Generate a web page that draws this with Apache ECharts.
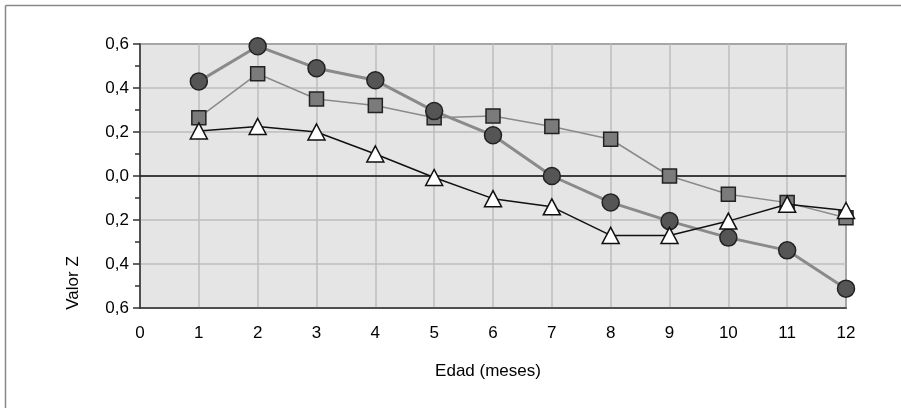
<!DOCTYPE html>
<html>
<head>
<meta charset="utf-8">
<script src="https://cdn.jsdelivr.net/npm/echarts@6/dist/echarts.min.js"></script>
<style>
html,body{margin:0;padding:0;background:#fff;}
#chart{width:901px;height:408px;}
</style>
</head>
<body>
<div id="chart"></div>
<script>
var months = [1,2,3,4,5,6,7,8,9,10,11,12];
var xTickLabels = ['0','1','2','3','4','5','6','7','8','9','10','11','12'];
var yTickValues = [-0.6,-0.4,-0.2,0,0.2,0.4,0.6];
var yTickLabels = ['0,6','0,4','0,2','0,0','0,2','0,4','0,6'];
var seriesCircle = [0.43,0.59,0.49,0.435,0.295,0.185,0.0,-0.12,-0.205,-0.28,-0.338,-0.512];
var seriesSquare = [0.265,0.465,0.35,0.32,0.265,0.273,0.225,0.167,0.0,-0.083,-0.121,-0.19];
var seriesTriangle = [0.205,0.225,0.2,0.1,-0.007,-0.103,-0.14,-0.27,-0.27,-0.205,-0.128,-0.157];
var xAxisTitle = 'Edad (meses)';
var yAxisTitle = 'Valor Z';

function pairs(vals){ return months.map(function(m,i){ return [m, vals[i]]; }); }

var FONT = 'Liberation Sans, Arial, sans-serif';
var chart = echarts.init(document.getElementById('chart'), null, {renderer:'canvas'});
chart.setOption({
  animation:false,
  backgroundColor:'#fff',
  grid:{left:140, right:55, top:44, bottom:100, show:true, backgroundColor:'#e5e5e5', borderColor:'#333', borderWidth:1.5},
  xAxis:{
    type:'value', min:0, max:12, interval:1,
    axisLine:{show:true, onZero:false, lineStyle:{color:'#333', width:1.5}},
    axisTick:{show:false},
    axisLabel:{color:'#000', fontFamily:FONT, fontSize:17, margin:17,
      formatter:function(v){ return xTickLabels[Math.round(v)]; }},
    splitLine:{show:true, lineStyle:{color:'#bdbdbd', width:1.5}}
  },
  yAxis:{
    type:'value', min:-0.6, max:0.6, interval:0.2,
    axisLine:{show:true, onZero:false, lineStyle:{color:'#333', width:1.5}},
    axisTick:{show:true, length:7, lineStyle:{color:'#333', width:1.5}},
    minorTick:{show:true, splitNumber:2, length:5, lineStyle:{color:'#333', width:1.5}},
    axisLabel:{color:'#000', fontFamily:FONT, fontSize:17, margin:11,
      formatter:function(v){
        for(var i=0;i<yTickValues.length;i++){ if(Math.abs(yTickValues[i]-v)<1e-6) return yTickLabels[i]; }
        return '';
      }},
    splitLine:{show:true, lineStyle:{color:'#bdbdbd', width:1.5}}
  },
  graphic:[
    {type:'line', shape:{x1:5.5,y1:5.5,x2:901,y2:5.5}, style:{stroke:'#888', lineWidth:1.5}},
    {type:'line', shape:{x1:5.5,y1:5.5,x2:5.5,y2:408}, style:{stroke:'#888', lineWidth:1.5}},
    {type:'text', x:488, y:371, style:{text:xAxisTitle, fontFamily:FONT, fontSize:17, fill:'#000', align:'center', verticalAlign:'middle'}},
    {type:'text', x:73, y:283, rotation:Math.PI/2, style:{text:yAxisTitle, fontFamily:FONT, fontSize:17, fill:'#000', align:'center', verticalAlign:'middle'}}
  ],
  series:[
    {type:'line', data:[[0,0],[12,0]], symbol:'none', silent:true, z:2,
      lineStyle:{color:'#111', width:1.5}},
    {type:'line', data:pairs(seriesSquare), symbol:'rect', symbolSize:14, z:3,
      lineStyle:{color:'#8a8a8a', width:1.5},
      itemStyle:{color:'#7b7b7b', borderColor:'#222', borderWidth:1.5}},
    {type:'line', data:pairs(seriesCircle), symbol:'circle', symbolSize:17, z:4,
      lineStyle:{color:'#8a8a8a', width:3},
      itemStyle:{color:'#555', borderColor:'#222', borderWidth:1.5}},
    {type:'line', data:pairs(seriesTriangle), symbol:'triangle', symbolSize:[17,16], z:5,
      lineStyle:{color:'#111', width:1.5},
      itemStyle:{color:'#fff', borderColor:'#111', borderWidth:1.5}}
  ]
});
</script>
</body>
</html>
